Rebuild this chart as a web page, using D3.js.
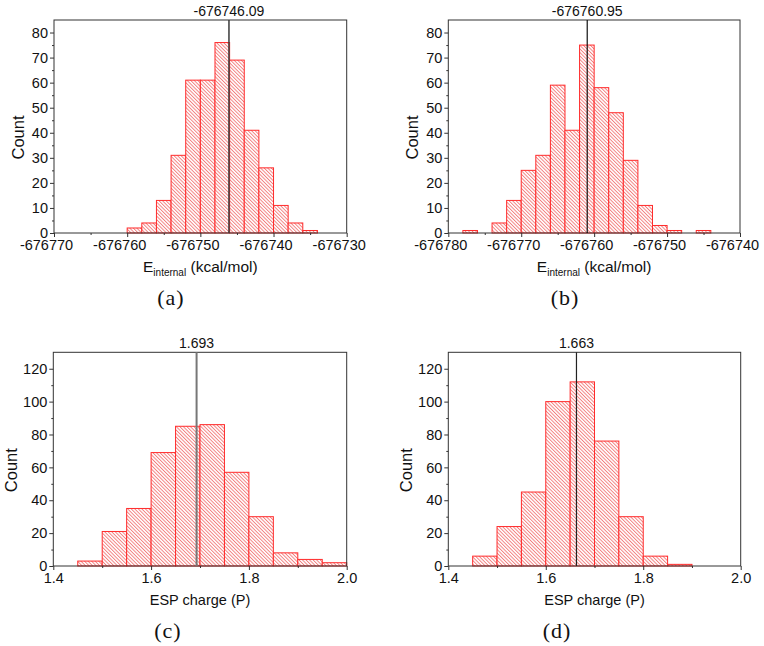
<!DOCTYPE html>
<html>
<head>
<meta charset="utf-8">
<script src="https://cdn.jsdelivr.net/npm/d3@7/dist/d3.min.js"></script>
<style>
  html, body { margin: 0; padding: 0; background: #fff; }
  svg { display: block; }
  text { font-family: "Liberation Sans", Arial, sans-serif; fill: #111; }
</style>
</head>
<body>
<svg id="chart" width="764" height="646"></svg>
<script>
// ---------- DATA ----------
// Panel (a): internal energy histogram (bin lower edges, width 2 kcal/mol)
const binsA = [-676760, -676758, -676756, -676754, -676752, -676750, -676748, -676746, -676744, -676742, -676740, -676738, -676736];
const countsA = [2, 4, 13, 31, 61, 61, 76, 69, 41, 26, 11, 4, 1];
const binWidthA = 2;
const meanA = -676746.09;
const meanLabelA = "-676746.09";
const xTicksA = [-676770, -676760, -676750, -676740, -676730];

// Panel (b)
const binsB = [-676778, -676776, -676774, -676772, -676770, -676768, -676766, -676764, -676762, -676760, -676758, -676756, -676754, -676752, -676750, -676748, -676746];
const countsB = [1, 0, 4, 13, 25, 31, 59, 41, 75, 58, 48, 29, 11, 3, 1, 0, 1];
const binWidthB = 2;
const meanB = -676760.95;
const meanLabelB = "-676760.95";
const xTicksB = [-676780, -676770, -676760, -676750, -676740];

// Panel (c): ESP charge histogram (bin width 0.05)
const binsC = [1.45, 1.50, 1.55, 1.60, 1.65, 1.70, 1.75, 1.80, 1.85, 1.90, 1.95];
const countsC = [3, 21, 35, 69, 85, 86, 57, 30, 8, 4, 2];
const binWidthC = 0.05;
const meanC = 1.693;
const meanLabelC = "1.693";

// Panel (d)
const binsD = [1.45, 1.50, 1.55, 1.60, 1.65, 1.70, 1.75, 1.80, 1.85];
const countsD = [6, 24, 45, 100, 112, 76, 30, 6, 1];
const binWidthD = 0.05;
const meanD = 1.663;
const meanLabelD = "1.663";

const xTicksCD = [1.4, 1.6, 1.8, 2.0];
const yTicksAB = [0, 10, 20, 30, 40, 50, 60, 70, 80];
const yTicksCD = [0, 20, 40, 60, 80, 100, 120];
const captions = ["(a)", "(b)", "(c)", "(d)"];

// ---------- DRAW ----------
const svg = d3.select("#chart");
const defs = svg.append("defs");
const pat = defs.append("pattern")
  .attr("id", "hatch")
  .attr("patternUnits", "userSpaceOnUse")
  .attr("width", 2.5).attr("height", 2.5)
  .attr("patternTransform", "rotate(-45)");
pat.append("rect").attr("width", 2.5).attr("height", 2.5).attr("fill", "#fff");
pat.append("line").attr("x1", 0.5).attr("y1", 0).attr("x2", 0.5).attr("y2", 2.5)
  .attr("stroke", "#f27070").attr("stroke-width", 0.85);

const FONT = '"Liberation Sans", Arial, sans-serif';

function panel(cfg) {
  const g = svg.append("g");
  const x = d3.scaleLinear().domain(cfg.xDomain).range([cfg.left, cfg.right]);
  const y = d3.scaleLinear().domain(cfg.yDomain).range([cfg.bottom, cfg.top]);

  // bars
  const data = cfg.bins.map((b, i) => ({ x0: b, x1: b + cfg.binWidth, c: cfg.counts[i] })).filter(d => d.c > 0);
  g.selectAll("rect.bar").data(data).enter().append("rect")
    .attr("class", "bar")
    .attr("x", d => x(d.x0))
    .attr("y", d => y(d.c))
    .attr("width", d => x(d.x1) - x(d.x0))
    .attr("height", d => y(0) - y(d.c))
    .attr("fill", "url(#hatch)")
    .attr("stroke", "#ff2b2b")
    .attr("stroke-width", 1);

  // minor ticks
  const xAxisMinor = d3.axisBottom(x).tickValues(cfg.xMinor).tickSize(2).tickFormat("");
  g.append("g").attr("transform", `translate(0,${cfg.bottom})`).call(xAxisMinor)
    .call(a => a.select(".domain").remove())
    .call(a => a.selectAll("line").attr("stroke", "#333"));
  const yAxisMinor = d3.axisLeft(y).tickValues(cfg.yMinor).tickSize(2).tickFormat("");
  g.append("g").attr("transform", `translate(${cfg.left},0)`).call(yAxisMinor)
    .call(a => a.select(".domain").remove())
    .call(a => a.selectAll("line").attr("stroke", "#333"));

  // major axes
  const xAxis = d3.axisBottom(x).tickValues(cfg.xTicks).tickSize(4).tickPadding(3)
    .tickFormat(cfg.xFormat);
  g.append("g").attr("transform", `translate(0,${cfg.bottom})`).call(xAxis)
    .call(a => a.select(".domain").remove())
    .call(a => a.selectAll("line").attr("stroke", "#333"))
    .call(a => a.selectAll("text").attr("font-size", 14.5).attr("fill", "#111")
      .attr("dx", cfg.xLabelShift).attr("font-family", FONT));
  const yAxis = d3.axisLeft(y).tickValues(cfg.yTicks).tickSize(4).tickPadding(2)
    .tickFormat(d => String(d));
  g.append("g").attr("transform", `translate(${cfg.left},0)`).call(yAxis)
    .call(a => a.select(".domain").remove())
    .call(a => a.selectAll("line").attr("stroke", "#333"))
    .call(a => a.selectAll("text").attr("font-size", 14.5).attr("fill", "#111")
      .attr("font-family", FONT));

  // frame
  g.append("rect")
    .attr("x", cfg.left).attr("y", cfg.top)
    .attr("width", cfg.right - cfg.left).attr("height", cfg.bottom - cfg.top)
    .attr("fill", "none").attr("stroke", "#333").attr("stroke-width", 1);

  // mean line and label
  g.append("line")
    .attr("x1", x(cfg.mean)).attr("x2", x(cfg.mean))
    .attr("y1", cfg.top).attr("y2", cfg.bottom)
    .attr("stroke", cfg.meanColor).attr("stroke-width", cfg.meanWidth);
  g.append("text")
    .attr("x", x(cfg.mean)).attr("y", cfg.top - 4)
    .attr("text-anchor", "middle").attr("font-size", 14)
    .text(cfg.meanLabel);

  // y title
  const cy = (cfg.top + cfg.bottom) / 2 + 11;
  g.append("text")
    .attr("transform", `translate(${cfg.left - cfg.countOffset},${cy}) rotate(-90)`)
    .attr("text-anchor", "middle").attr("dy", "0.35em")
    .attr("font-size", 16.5)
    .text("Count");

  // x title
  const cx = (cfg.left + cfg.right) / 2;
  const xt = g.append("text").attr("x", cx).attr("y", cfg.bottom + 39)
    .attr("text-anchor", "middle");
  if (cfg.energy) {
    xt.append("tspan").attr("font-size", 15.5).text("E");
    xt.append("tspan").attr("font-size", 10).attr("dy", 4).text("internal");
    xt.append("tspan").attr("font-size", 15.5).attr("dy", -4).text(" (kcal/mol)");
  } else {
    xt.attr("font-size", 14.5).text("ESP charge (P)");
  }

  // caption
  g.append("text")
    .attr("x", cfg.capX).attr("y", cfg.bottom + 72)
    .attr("text-anchor", "middle")
    .attr("font-size", 22)
    .attr("letter-spacing", 1)
    .style("font-family", '"Liberation Serif", "DejaVu Serif", serif')
    .text(cfg.caption);
}

const fmtE = d => String(d);
const fmtC = d => d3.format(".1f")(d);

panel({
  left: 54, right: 346.7, top: 20, bottom: 233,
  xDomain: [-676770, -676730], yDomain: [0, 85],
  bins: binsA, counts: countsA, binWidth: binWidthA,
  xTicks: xTicksA, xMinor: d3.range(-676765, -676730, 10),
  yTicks: yTicksAB, yMinor: d3.range(5, 85, 10),
  xFormat: fmtE, xLabelShift: -8, mean: meanA, meanLabel: meanLabelA,
  meanColor: "#3a3a3a", meanWidth: 1.5, countOffset: 36,
  energy: true, caption: captions[0], capX: 171
});
panel({
  left: 448.3, right: 740, top: 20, bottom: 233,
  xDomain: [-676780, -676740], yDomain: [0, 85],
  bins: binsB, counts: countsB, binWidth: binWidthB,
  xTicks: xTicksB, xMinor: d3.range(-676775, -676740, 10),
  yTicks: yTicksAB, yMinor: d3.range(5, 85, 10),
  xFormat: fmtE, xLabelShift: -8, mean: meanB, meanLabel: meanLabelB,
  meanColor: "#111", meanWidth: 1.2, countOffset: 36,
  energy: true, caption: captions[1], capX: 565
});
panel({
  left: 53.3, right: 346.7, top: 352.3, bottom: 566,
  xDomain: [1.4, 2.0], yDomain: [0, 130],
  bins: binsC, counts: countsC, binWidth: binWidthC,
  xTicks: xTicksCD, xMinor: [1.5, 1.7, 1.9],
  yTicks: yTicksCD, yMinor: d3.range(10, 130, 20),
  xFormat: fmtC, xLabelShift: 0, mean: meanC, meanLabel: meanLabelC,
  meanColor: "#777", meanWidth: 2, countOffset: 42,
  energy: false, caption: captions[2], capX: 168
});
panel({
  left: 448.3, right: 740.7, top: 352.3, bottom: 566,
  xDomain: [1.4, 2.0], yDomain: [0, 130],
  bins: binsD, counts: countsD, binWidth: binWidthD,
  xTicks: xTicksCD, xMinor: [1.5, 1.7, 1.9],
  yTicks: yTicksCD, yMinor: d3.range(10, 130, 20),
  xFormat: fmtC, xLabelShift: 0, mean: meanD, meanLabel: meanLabelD,
  meanColor: "#222", meanWidth: 1.2, countOffset: 42,
  energy: false, caption: captions[3], capX: 557
});
</script>
</body>
</html>
